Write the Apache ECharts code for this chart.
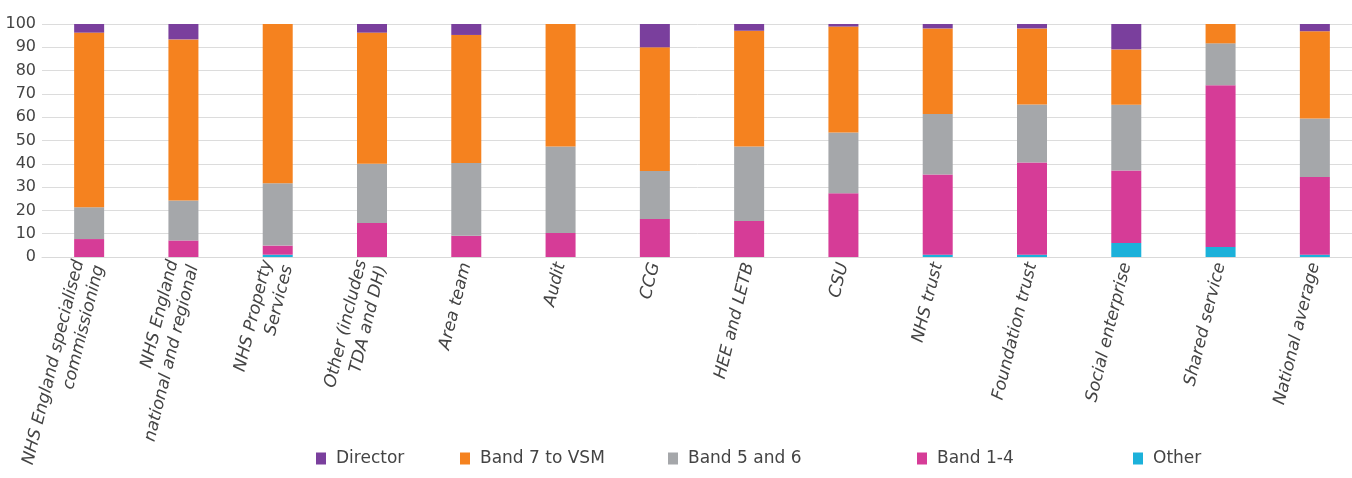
<!DOCTYPE html>
<html>
<head>
<meta charset="utf-8">
<script src="https://cdn.jsdelivr.net/npm/echarts@6/dist/echarts.min.js"></script>
<style>
  html, body { margin: 0; padding: 0; background: #fff; }
  #chart { width: 1352px; height: 478px; }
</style>
</head>
<body>
<div id="chart"></div>
<script>
// categories along the x axis
const categories = [
  'NHS England specialised\ncommissioning',
  'NHS England\nnational and regional',
  'NHS Property\nServices',
  'Other (includes\nTDA and DH)',
  'Area team',
  'Audit',
  'CCG',
  'HEE and LETB',
  'CSU',
  'NHS trust',
  'Foundation trust',
  'Social enterprise',
  'Shared service',
  'National average'
];

// percentages, bottom of the stack first
const other     = [0, 0, 1, 0, 0, 0, 0, 0, 0, 1, 1, 6, 4.3, 1];
const band1to4  = [7.7, 7.1, 3.9, 14.6, 9.1, 10.3, 16.3, 15.4, 27.4, 34.4, 39.6, 31.1, 69.4, 33.3];
const band5and6 = [13.7, 17.2, 26.8, 25.4, 31.2, 37.1, 20.6, 32, 26, 26, 24.8, 28.2, 18, 25.1];
const band7VSM  = [74.9, 69.1, 68.3, 56.3, 55, 52.6, 53.1, 49.7, 45.5, 36.7, 32.7, 23.8, 8.3, 37.5];
const director  = [3.7, 6.6, 0, 3.7, 4.7, 0, 10, 2.9, 1.1, 1.9, 1.9, 10.9, 0, 3.1];

const yTicks = [0, 10, 20, 30, 40, 50, 60, 70, 80, 90, 100];

const font = "'DejaVu Sans', 'Liberation Sans', sans-serif";
const textColor = '#444';

// stack order (bottom -> top)
const seriesDefs = [
  { name: 'Other',         data: other,     color: '#1CB1DA' },
  { name: 'Band 1-4',      data: band1to4,  color: '#D63C97' },
  { name: 'Band 5 and 6',  data: band5and6, color: '#A5A7AA' },
  { name: 'Band 7 to VSM', data: band7VSM,  color: '#F5821F' },
  { name: 'Director',      data: director,  color: '#7A3F9D' }
];

// legend order and where each item sits
const legendOrder = ['Director', 'Band 7 to VSM', 'Band 5 and 6', 'Band 1-4', 'Other'];
const legendLeft  = [316, 460, 668, 917, 1133];

const myChart = echarts.init(document.getElementById('chart'), null, { renderer: 'canvas' });

const option = {
  backgroundColor: '#fff',
  animation: false,
  textStyle: { fontFamily: font },
  grid: {
    left: 42, width: 1320, top: 24, bottom: 221,
    containLabel: false,
    outerBoundsMode: 'none'
  },
  legend: legendOrder.map((name, i) => ({
    data: [name],
    left: legendLeft[i],
    top: 450,
    padding: 0,
    icon: 'rect',
    itemWidth: 10,
    itemHeight: 12,
    selectedMode: false,
    textStyle: { fontFamily: font, fontSize: 17, color: textColor, padding: [0, 0, 0, 5] }
  })),
  xAxis: {
    type: 'category',
    data: categories,
    axisTick: { show: false },
    axisLine: { lineStyle: { color: '#d9d9d9', width: 1 } },
    axisLabel: {
      interval: 0,
      rotate: 76,
      margin: 6,
      fontFamily: font,
      fontSize: 17,
      fontStyle: 'italic',
      lineHeight: 21,
      color: textColor
    }
  },
  yAxis: {
    type: 'value',
    min: yTicks[0],
    max: yTicks[yTicks.length - 1],
    interval: yTicks[1] - yTicks[0],
    axisLine: { show: false },
    axisTick: { show: false },
    splitLine: { lineStyle: { color: '#dcdcdc', width: 1 } },
    axisLabel: { fontFamily: font, fontSize: 16, color: textColor, margin: 6 }
  },
  series: seriesDefs.map(s => ({
    name: s.name,
    type: 'bar',
    stack: 'total',
    barWidth: 30,
    data: s.data,
    itemStyle: { color: s.color }
  }))
};

myChart.setOption(option);
</script>
</body>
</html>
